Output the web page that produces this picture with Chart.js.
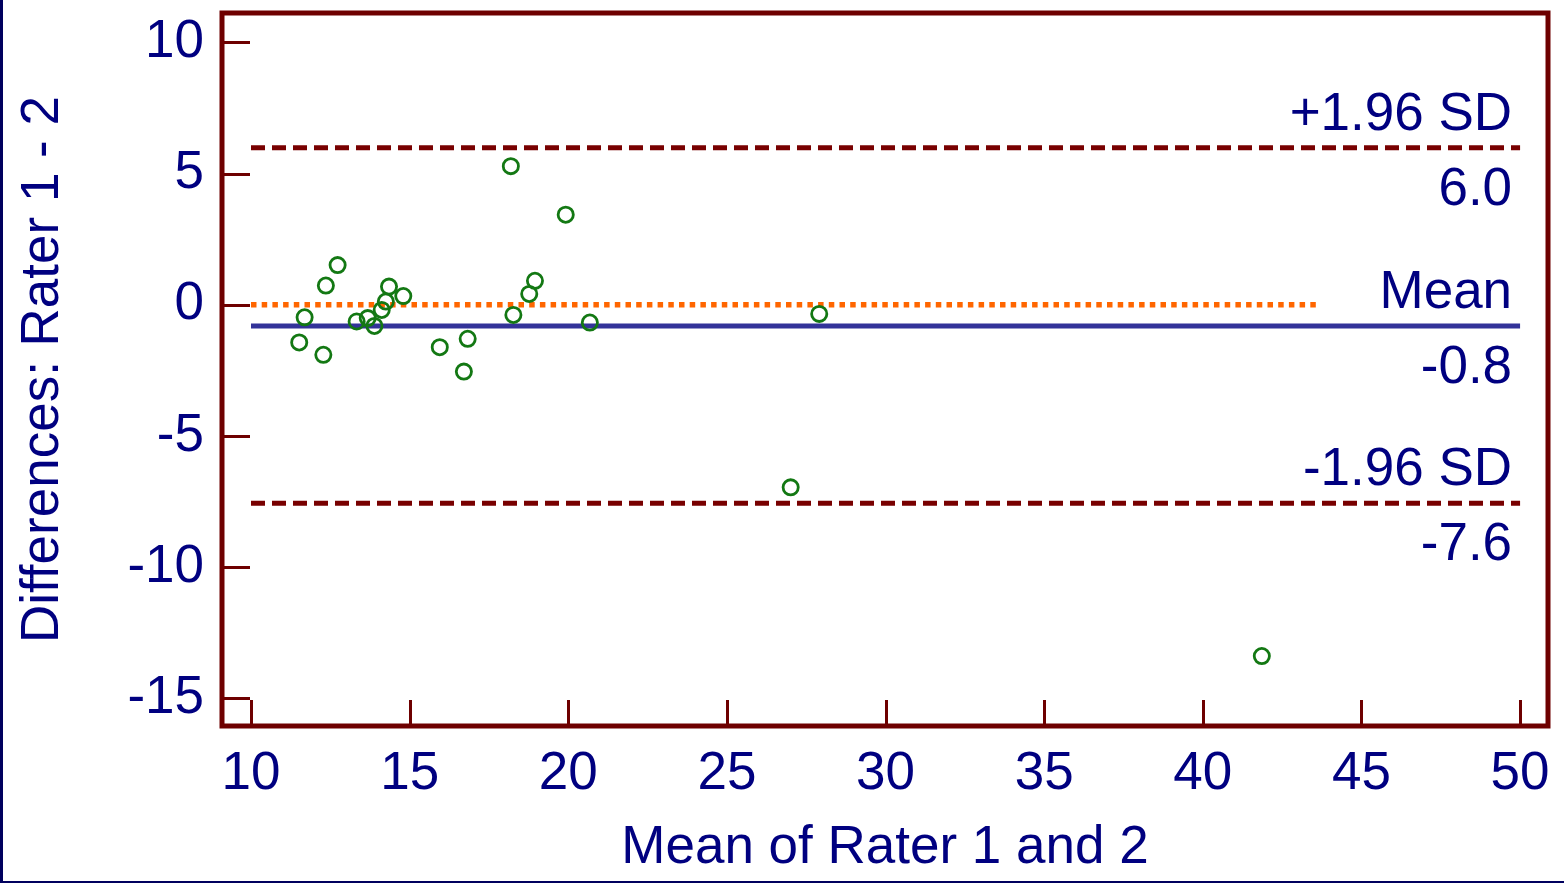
<!DOCTYPE html>
<html><head><meta charset="utf-8">
<script src="https://cdn.jsdelivr.net/npm/chart.js@4"></script>
<style>html,body{margin:0;padding:0;background:#fff;} canvas{display:block;}</style>
</head><body>
<canvas id="c" width="1564" height="883"></canvas>
<script>
// ---- data ----
const meanOfRaters = [11.52, 11.69, 12.28, 12.36, 12.73, 13.33, 13.68, 13.89, 14.12, 14.25, 14.35, 14.80, 15.95, 16.71, 16.83, 18.19, 18.27, 18.77, 18.95, 19.92, 20.68, 27.01, 27.91, 41.86];
const differences  = [-1.44, -0.48, -1.91, 0.73, 1.51, -0.64, -0.51, -0.81, -0.20, 0.12, 0.69, 0.33, -1.62, -2.55, -1.30, 5.28, -0.39, 0.41, 0.91, 3.43, -0.68, -6.96, -0.35, -13.39];
const xTickValues = [10, 15, 20, 25, 30, 35, 40, 45, 50];
const yTickValues = [10, 5, 0, -5, -10, -15];
const limitNames  = ['+1.96 SD', 'Mean', '-1.96 SD'];
const limitValues = [5.98, -0.81, -7.57];
const lineSpan = [10, 50];
const zeroSpan = [10, 43.7];
const zeroValue = 0;
const xTitle = 'Mean of Rater 1 and 2';
const yTitle = 'Differences: Rater 1 - 2';
const xRange = [9.086, 50.88];
const yRange = [-16.056, 11.117];

// ---- styles ----
const FONT = "'Liberation Sans', Arial, sans-serif";
const NAVY = '#000080';
const MAROON = '#6e0000';
const FS = 53;

Chart.defaults.font.family = FONT;
Chart.defaults.color = NAVY;

const limitStyles = [
  {color: '#780000', width: 5, dash: [14, 7]},
  {color: '#333399', width: 5, dash: []},
  {color: '#780000', width: 5, dash: [14, 7]}
];

const datasets = [{
  label: 'Differences',
  data: meanOfRaters.map((m, i) => ({x: m, y: differences[i]})),
  pointStyle: 'circle',
  pointRadius: 7.6,
  pointHoverRadius: 7.6,
  pointBorderWidth: 2.8,
  pointBorderColor: '#137813',
  pointBackgroundColor: 'rgba(0,0,0,0)',
  showLine: false,
  order: 0
}, {
  label: 'Zero',
  data: zeroSpan.map(x => ({x, y: zeroValue})),
  showLine: true, pointRadius: 0, borderColor: '#ff6600', borderWidth: 5.5,
  borderDash: [5.5, 5.2], borderCapStyle: 'butt', order: 2
}];
limitValues.forEach((v, i) => {
  datasets.push({
    label: limitNames[i],
    data: lineSpan.map(x => ({x, y: v})),
    showLine: true, pointRadius: 0,
    borderColor: limitStyles[i].color, borderWidth: limitStyles[i].width,
    borderDash: limitStyles[i].dash, borderCapStyle: 'butt', order: 1
  });
});

const frameBg = {
  id: 'frameBg',
  beforeDraw(chart) {
    const ctx = chart.ctx, W = chart.width, H = chart.height;
    ctx.save();
    ctx.fillStyle = '#ffffff';
    ctx.fillRect(0, 0, W, H);
    ctx.fillStyle = '#00005e';
    ctx.fillRect(0, 0, 3, H);
    ctx.fillRect(0, H - 2, W, 2);
    ctx.restore();
  },
  beforeDatasetsDraw(chart) {
    const ctx = chart.ctx, a = chart.chartArea;
    const xs = chart.scales.x, ys = chart.scales.y;
    ctx.save();
    ctx.strokeStyle = MAROON;
    ctx.lineWidth = 3;
    ctx.beginPath();
    yTickValues.forEach(v => {
      const p = Math.round(ys.getPixelForValue(v)) + 0.5;
      ctx.moveTo(a.left, p); ctx.lineTo(a.left + 28, p);
    });
    xTickValues.forEach(v => {
      const p = Math.round(xs.getPixelForValue(v)) + 0.5;
      ctx.moveTo(p, a.bottom); ctx.lineTo(p, a.bottom - 26);
    });
    ctx.stroke();
    ctx.restore();
  },
  afterDatasetsDraw(chart) {
    const ctx = chart.ctx, a = chart.chartArea;
    const xs = chart.scales.x, ys = chart.scales.y;
    ctx.save();
    ctx.strokeStyle = MAROON;
    ctx.lineWidth = 5;
    ctx.strokeRect(a.left, a.top, a.right - a.left, a.bottom - a.top);
    // limit labels
    ctx.fillStyle = NAVY;
    ctx.font = FS + 'px ' + FONT;
    ctx.textAlign = 'right';
    ctx.textBaseline = 'alphabetic';
    const xr = xs.getPixelForValue(lineSpan[1]) - 8;
    limitValues.forEach((v, i) => {
      const p = ys.getPixelForValue(v);
      ctx.fillText(limitNames[i], xr, p - 18);
      ctx.fillText(v.toFixed(1), xr, p + 57);
    });
    ctx.restore();
  }
};

new Chart(document.getElementById('c'), {
  type: 'scatter',
  data: {datasets},
  plugins: [frameBg],
  options: {
    responsive: false,
    animation: false,
    devicePixelRatio: 1,
    layout: {padding: {top: 13, right: 16, left: 0, bottom: 0}},
    plugins: {legend: {display: false}, tooltip: {enabled: false}},
    scales: {
      x: {
        type: 'linear', min: xRange[0], max: xRange[1],
        afterBuildTicks: s => { s.ticks = xTickValues.map(v => ({value: v})); },
        afterFit: s => { s.height = 157; s.paddingLeft = 0; s.paddingRight = 0; },
        grid: {display: false, drawTicks: false},
        border: {display: false},
        ticks: {font: {size: FS}, color: NAVY, padding: 17, maxRotation: 0, autoSkip: false},
        title: {display: true, text: xTitle, font: {size: FS}, color: NAVY, padding: {top: 0, bottom: 3}}
      },
      y: {
        type: 'linear', min: yRange[0], max: yRange[1],
        afterBuildTicks: s => { s.ticks = yTickValues.map(v => ({value: v})); },
        afterFit: s => { s.width = 222; s.paddingTop = 0; s.paddingBottom = 0; },
        grid: {display: false, drawTicks: false},
        border: {display: false},
        ticks: {font: {size: FS}, color: NAVY, padding: 18, autoSkip: false},
        title: {display: true, text: yTitle, font: {size: FS}, color: NAVY, padding: {top: 12, bottom: 0}}
      }
    }
  }
});
</script>
</body></html>
